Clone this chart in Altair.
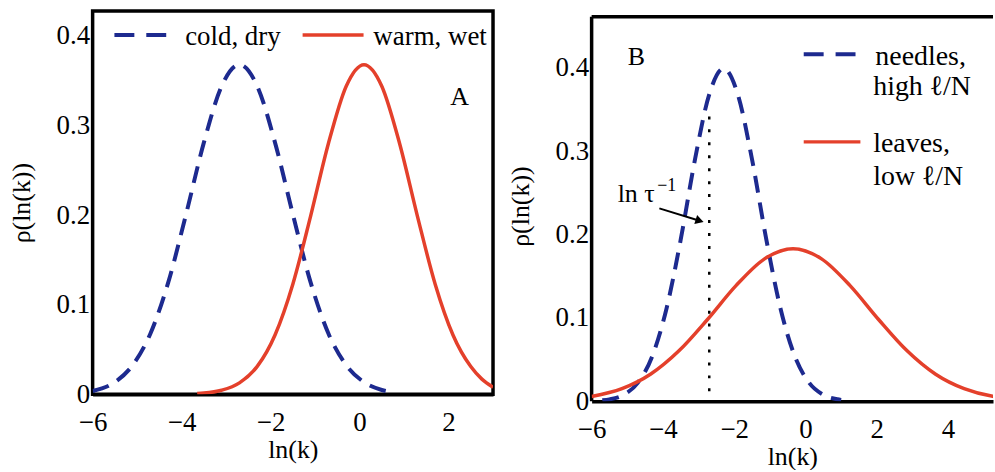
import altair as alt
import pandas as pd

FONT = "Liberation Serif, Times New Roman, DejaVu Serif, serif"
BLUE = "#1d2a8f"
RED = "#e4402b"
FS_TICK = 27
FS_TITLE = 26
FS_TEXT = 27

# ---------------- Panel A data ----------------
a_cold_x = [-6.0, -5.5, -5.1, -4.7, -4.3, -3.9, -3.5, -3.1, -2.7, -2.3, -1.9, -1.5, -1.1, -0.7, -0.3, 0.1, 0.5, 0.8]
a_cold_y = [0.0038, 0.0136, 0.0326, 0.068, 0.125, 0.201, 0.281, 0.344, 0.368, 0.344, 0.281, 0.201, 0.125, 0.068, 0.0326, 0.0136, 0.0049, 0.0021]
a_warm_x = [-3.65, -3.5, -3.1, -2.7, -2.3, -1.9, -1.5, -1.1, -0.7, -0.3, 0.1, 0.5, 0.9, 1.3, 1.7, 2.1, 2.5, 2.75, 3.0]
a_warm_y = [0.0009, 0.0014, 0.0046, 0.0128, 0.0312, 0.0663, 0.123, 0.199, 0.280, 0.344, 0.368, 0.344, 0.280, 0.199, 0.123, 0.0663, 0.031, 0.017, 0.008]

# ---------------- Panel B data ----------------
b_needle_x = [-5.7, -5.5, -5.1, -4.7, -4.3, -3.9, -3.5, -3.1, -2.7, -2.3, -1.9, -1.5, -1.1, -0.7, -0.3, 0.1, 0.5, 0.9, 1.0]
b_needle_y = [0.0012, 0.0024, 0.0079, 0.0224, 0.054, 0.111, 0.194, 0.290, 0.368, 0.399, 0.368, 0.290, 0.194, 0.111, 0.054, 0.0224, 0.0079, 0.0024, 0.0017]
b_leaf_x = [-6.0, -5.15, -4.35, -3.55, -2.75, -1.95, -1.15, -0.35, 0.45, 1.25, 2.05, 2.85, 3.65, 4.45, 5.25, 5.3]
b_leaf_y = [0.0058, 0.0151, 0.0324, 0.0605, 0.0981, 0.1387, 0.1708, 0.183, 0.1708, 0.1387, 0.0981, 0.0605, 0.0324, 0.0151, 0.0061, 0.0058]
tau_x = [-2.7]
tau_y = [0.012]
tau_y2 = [0.345]

# ---------------- axes ----------------
a_xticks = [-6, -4, -2, 0, 2]
b_xticks = [-6, -4, -2, 0, 2, 4]
yticks = [0, 0.1, 0.2, 0.3, 0.4]
A_XDOM = [-6, 3]
A_YDOM = [0, 0.428]
B_XDOM = [-6, 5.26]
B_YDOM = [0, 0.468]
B_YTOP = 0.461

YLABEL = "datum.value == 0 ? '0' : format(datum.value, '.1f')"


def make_x(dom, ticks):
    return alt.X("x:Q", scale=alt.Scale(domain=dom, nice=False, zero=False),
                 axis=alt.Axis(values=ticks, title="ln(k)", labelPadding=15,
                               labelFlush=False, titlePadding=1, domain=True))


def make_y(dom, domain_line):
    return alt.Y("y:Q", scale=alt.Scale(domain=dom, nice=False, zero=False),
                 axis=alt.Axis(values=yticks, title="ρ(ln(k))", labelExpr=YLABEL,
                               labelPadding=3, labelFlush=False, titleX=-58,
                               titleBaseline="bottom", domain=domain_line))


def curve(xs, ys, color, X, Y, dash=None, width=3.5):
    df = pd.DataFrame({"x": xs, "y": ys})
    kw = dict(color=color, strokeWidth=width, interpolate="monotone", clip=True)
    if dash:
        kw["strokeDash"] = dash
    return alt.Chart(df).mark_line(**kw).encode(x=X, y=Y)


def seg(x1, x2, y1, y2, color, X, Y, width=3.5, dash=None):
    df = pd.DataFrame({"x": x1, "x2": x2, "y": y1, "y2": y2})
    kw = dict(color=color, strokeWidth=width)
    if dash:
        kw["strokeDash"] = dash
    return alt.Chart(df).mark_rule(**kw).encode(x=X, x2="x2:Q", y=Y, y2="y2:Q")


def label(xs, ys, texts, X, Y, size=FS_TEXT, baseline="alphabetic"):
    df = pd.DataFrame({"x": xs, "y": ys, "t": texts})
    return alt.Chart(df).mark_text(align="left", baseline=baseline, font=FONT,
                                   fontSize=size, color="black").encode(x=X, y=Y, text="t:N")


# ---------------- Panel A ----------------
XA = make_x(A_XDOM, a_xticks)
YA = make_y(A_YDOM, False)
panelA = alt.layer(
    curve(a_cold_x, a_cold_y, BLUE, XA, YA, dash=[17, 10], width=4),
    curve(a_warm_x, a_warm_y, RED, XA, YA),
    seg([-5.51], [-4.23], [0.401], [0.401], BLUE, XA, YA, width=4, dash=[20, 12]),
    seg([-1.28], [0.09], [0.401], [0.401], RED, XA, YA),
    label([-3.92, 0.31], [0.39, 0.39], ["cold, dry", "warm, wet"], XA, YA),
    label([2.04], [0.323], ["A"], XA, YA, size=26),
).properties(width=402, height=385)

# ---------------- Panel B ----------------
XB = make_x(B_XDOM, b_xticks)
YB = make_y(B_YDOM, False)
panelB = alt.layer(
    seg([-6], [B_XDOM[1]], [B_YTOP], [B_YTOP], "black", XB, YB, width=3.5),
    seg([-6], [-6], [0], [B_YTOP], "black", XB, YB, width=3.5),
    seg(tau_x, tau_x, tau_y, tau_y2, "black", XB, YB, width=2.5, dash=[3, 10]),
    curve(b_needle_x, b_needle_y, BLUE, XB, YB, dash=[17, 10], width=4),
    curve(b_leaf_x, b_leaf_y, RED, XB, YB),
    seg([-0.05], [1.54], [0.416], [0.416], BLUE, XB, YB, width=4, dash=[20, 12]),
    seg([-0.05], [1.54], [0.311], [0.311], RED, XB, YB),
    label([1.96, 1.9, 1.9, 1.9], [0.4026, 0.3668, 0.2987, 0.2593],
          ["needles,", "high ℓ/N", "leaves,", "low ℓ/N"], XB, YB, size=28),
    label([-4.99], [0.4026], ["B"], XB, YB, size=26),
    label([-5.27], [0.239], ["ln τ"], XB, YB, size=26),
    label([-4.16], [0.2575], ["−1"], XB, YB, size=18, baseline="middle"),
    seg([-4.1], [-2.95], [0.2313], [0.2162], "black", XB, YB, width=2),
    alt.Chart(pd.DataFrame({"x": [-2.97], "y": [0.2164]})).mark_point(
        shape="triangle-right", angle=17, filled=True, size=90, color="black", opacity=1
    ).encode(x=XB, y=YB),
).properties(width=403, height=392, view=alt.ViewBackground(strokeWidth=0))

chart = alt.hconcat(panelA, panelB, spacing=99, bounds="flush").properties(
    padding={"left": 7, "top": 8, "right": 0, "bottom": 0},
).configure_view(
    stroke="black", strokeWidth=3.5
).configure_axis(
    labelFont=FONT, titleFont=FONT, labelFontSize=FS_TICK, titleFontSize=FS_TITLE,
    titleFontWeight="normal", labelColor="black", titleColor="black",
    domainColor="black", domainWidth=3.5, tickSize=0, grid=False,
)

chart.save("out.html", embed_options={"renderer": "svg", "actions": False})
